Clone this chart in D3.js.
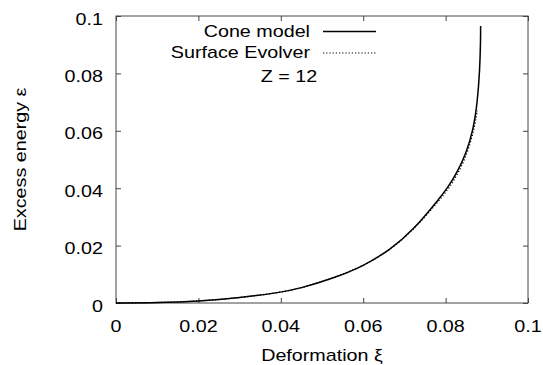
<!DOCTYPE html>
<html><head><meta charset="utf-8">
<script src="https://cdn.jsdelivr.net/npm/d3@7"></script>
<style>body{margin:0;background:#fff}svg{display:block}text{font-family:"Liberation Sans",Arial,sans-serif;fill:#000}</style>
</head><body><svg id="c" width="543" height="365"></svg>
<script>
const coneX = [0,0.01,0.02,0.03,0.04,0.0447,0.0527,0.06,0.0665,0.0722,0.0788,0.0804,0.0827,0.085,0.0867,0.0877,0.0883,0.0885,0.0885];
const coneY = [0,0.00009,0.0006,0.0018,0.0037,0.0051,0.0086,0.0128,0.0185,0.0254,0.037,0.04,0.0452,0.0522,0.0603,0.0696,0.0812,0.092,0.0965];
const seX = [0,0.01,0.02,0.03,0.04,0.0447,0.0527,0.06,0.0665,0.0722,0.079,0.0818,0.0844,0.0861,0.0871,0.0877];
const seY = [0,0.00009,0.0006,0.0018,0.0037,0.0051,0.0086,0.0128,0.0185,0.0254,0.0366,0.042,0.049,0.056,0.062,0.067];
const xTicks = [0,0.02,0.04,0.06,0.08,0.1];
const yTicks = [0,0.02,0.04,0.06,0.08,0.1];
const xTickLabels = ["0","0.02","0.04","0.06","0.08","0.1"];
const yTickLabels = ["0","0.02","0.04","0.06","0.08","0.1"];
const seriesNames = ["Cone model","Surface Evolver"];
const annotation = "Z = 12";

const svg = d3.select("#c");
const L=116,R=528,T=16,B=303;
const x = d3.scaleLinear().domain([0,0.1]).range([L,R]);
const y = d3.scaleLinear().domain([0,0.1]).range([B,T]);
const frame="#444", tl=5, FS=17, SX=1.16;

function label(px,py,anchor,txt,rot){
  return svg.append("text")
    .attr("transform",`translate(${px},${py})${rot?` rotate(${rot})`:""} scale(${SX},1)`)
    .attr("text-anchor",anchor).attr("font-size",FS).text(txt);
}

svg.append("rect").attr("x",L).attr("y",T).attr("width",R-L).attr("height",B-T)
  .attr("fill","none").attr("stroke",frame).attr("stroke-width",1);

const style = g=>{g.select(".domain").remove();g.selectAll("line").attr("stroke",frame);};
svg.append("g").attr("transform",`translate(0,${B})`).call(d3.axisBottom(x).tickValues(xTicks).tickSize(-tl).tickFormat("")).call(style);
svg.append("g").attr("transform",`translate(0,${T})`).call(d3.axisTop(x).tickValues(xTicks).tickSize(-tl).tickFormat("")).call(style);
svg.append("g").attr("transform",`translate(${L},0)`).call(d3.axisLeft(y).tickValues(yTicks).tickSize(-tl).tickFormat("")).call(style);
svg.append("g").attr("transform",`translate(${R},0)`).call(d3.axisRight(y).tickValues(yTicks).tickSize(-tl).tickFormat("")).call(style);

xTicks.forEach((d,i)=>label(x(d),332,"middle",xTickLabels[i]));
yTicks.forEach((d,i)=>label(103,y(d)+8.5,"end",yTickLabels[i]));

const line = d3.line().x(d=>x(d[0])).y(d=>y(d[1])).curve(d3.curveBasis);
svg.append("path").datum(seX.map((v,i)=>[v,seY[i]])).attr("d",line)
  .attr("fill","none").attr("stroke","#000").attr("stroke-width",1.3).attr("stroke-dasharray","1.2,2");
svg.append("path").datum(coneX.map((v,i)=>[v,coneY[i]])).attr("d",line)
  .attr("fill","none").attr("stroke","#000").attr("stroke-width",1.5);

// legend
label(310,37.3,"end",seriesNames[0]);
svg.append("line").attr("x1",323).attr("x2",376).attr("y1",31.5).attr("y2",31.5).attr("stroke","#000").attr("stroke-width",1.5);
label(310,58.3,"end",seriesNames[1]);
svg.append("line").attr("x1",323).attr("x2",376).attr("y1",53).attr("y2",53).attr("stroke","#000").attr("stroke-width",1.2).attr("stroke-dasharray","1.2,2");
label(289,81.7,"middle",annotation);

// axis titles
label((L+R)/2,360.6,"middle","Deformation ξ");
label(26,(T+B)/2,"middle","Excess energy ε",-90);
</script></body></html>
